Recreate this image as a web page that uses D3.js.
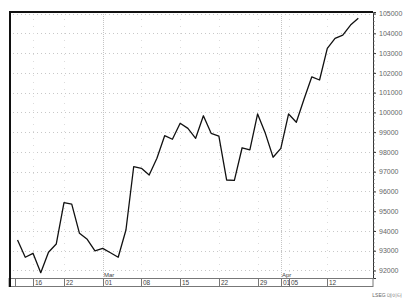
<!DOCTYPE html>
<html>
<head>
<meta charset="utf-8">
<script src="https://cdn.jsdelivr.net/npm/d3@7"></script>
<style>
  body { margin: 0; background: #fff; }
  svg { display: block; font-family: "Liberation Sans", Arial, sans-serif; }
</style>
</head>
<body>
<div id="chart"></div>
<script>
// trading days, feb 11 - apr 16
var dates = ["02-11","02-12","02-16","02-17","02-18","02-19",
  "02-22","02-23","02-24","02-25","02-26",
  "03-01","03-02","03-03","03-04","03-05",
  "03-08","03-09","03-10","03-11","03-12",
  "03-15","03-16","03-17","03-18","03-19",
  "03-22","03-23","03-24","03-25","03-26",
  "03-29","03-30","03-31","04-01",
  "04-05","04-06","04-07","04-08","04-09",
  "04-12","04-13","04-14","04-15","04-16"];

var closes = [93540, 92670, 92870, 91890, 92920, 93340,
  95430, 95360, 93880, 93580, 92990,
  93120, 92900, 92670, 94050, 97250,
  97170, 96830, 97680, 98820, 98640,
  99450, 99190, 98690, 99830, 98940,
  98800, 96580, 96560, 98210, 98100,
  99920, 98940, 97730, 98180,
  99920, 99500, 100680, 101800, 101640,
  103240, 103750, 103910, 104420, 104760];

var yTicks = [92000, 93000, 94000, 95000, 96000, 97000, 98000, 99000,
  100000, 101000, 102000, 103000, 104000, 105000];

var weekTicks = ["02-16","02-22","03-01","03-08","03-15","03-22","03-29","04-01","04-05","04-12"];
var weekLabels = ["16","22","01","08","15","22","29","01","05","12"];
var monthTicks = ["03-01","04-01"];
var monthLabels = ["Mar","Apr"];

var margin = {top: 12, right: 35, bottom: 22, left: 9},
    width = 408,
    height = 300,
    plotR = width - margin.right,
    plotB = height - margin.bottom;

var svg = d3.select("#chart").append("svg")
    .attr("width", width)
    .attr("height", height);

var x = d3.scaleLinear()
    .domain([-1.1, 45.9])
    .range([margin.left, plotR]);

var y = d3.scaleLinear()
    .domain([91620, 105080])
    .range([plotB, margin.top]);

function xd(d) { return x(dates.indexOf(d)); }

// grid
svg.append("g").selectAll("line")
    .data(yTicks)
  .enter().append("line")
    .attr("x1", margin.left).attr("x2", plotR)
    .attr("y1", function(d) { return Math.round(y(d)) + 0.5; })
    .attr("y2", function(d) { return Math.round(y(d)) + 0.5; })
    .attr("stroke", "#c8c8c8")
    .attr("stroke-dasharray", "1,3");

svg.append("g").selectAll("line")
    .data(weekTicks.filter(function(d) { return monthTicks.indexOf(d) < 0; }))
  .enter().append("line")
    .attr("x1", function(d) { return Math.round(xd(d)) + 0.5; })
    .attr("x2", function(d) { return Math.round(xd(d)) + 0.5; })
    .attr("y1", margin.top).attr("y2", plotB)
    .attr("stroke", "#dcdcdc")
    .attr("stroke-dasharray", "1,6");

svg.append("g").selectAll("line")
    .data(monthTicks)
  .enter().append("line")
    .attr("x1", function(d) { return Math.round(xd(d)) + 0.5; })
    .attr("x2", function(d) { return Math.round(xd(d)) + 0.5; })
    .attr("y1", margin.top).attr("y2", plotB)
    .attr("stroke", "#c4c4c4")
    .attr("stroke-dasharray", "1,1");

// right axis
var yAxis = d3.axisRight(y)
    .tickValues(yTicks)
    .tickSize(3)
    .tickFormat(d3.format("d"));

var ay = svg.append("g")
    .attr("transform", "translate(" + plotR + ",0)")
    .call(yAxis);
ay.select(".domain").attr("stroke", "#333");
ay.selectAll(".tick line").attr("stroke", "#333");
ay.selectAll("text")
    .attr("x", 6)
    .attr("fill", "#666")
    .style("font-size", "7px");

// minor ticks on right axis
svg.append("g").selectAll("line")
    .data(d3.range(91800, 105001, 200))
  .enter().append("line")
    .attr("x1", plotR).attr("x2", plotR + 1.5)
    .attr("y1", function(d) { return y(d); })
    .attr("y2", function(d) { return y(d); })
    .attr("stroke", "#555");

// date band
var band = svg.append("g");
band.append("rect")
    .attr("x", margin.left).attr("y", plotB + 0.5)
    .attr("width", plotR - margin.left).attr("height", 8)
    .attr("fill", "none").attr("stroke", "#777");
band.append("line")
    .attr("x1", 15.5).attr("x2", 15.5)
    .attr("y1", plotB).attr("y2", plotB + 8)
    .attr("stroke", "#777");
band.selectAll(".wk")
    .data(weekTicks)
  .enter().append("line")
    .attr("class", "wk")
    .attr("x1", function(d) { return Math.round(xd(d)) + 0.5; })
    .attr("x2", function(d) { return Math.round(xd(d)) + 0.5; })
    .attr("y1", plotB).attr("y2", plotB + 8)
    .attr("stroke", "#777");
band.selectAll(".wl")
    .data(weekTicks)
  .enter().append("text")
    .attr("class", "wl")
    .attr("x", function(d) { return Math.round(xd(d)) + 2; })
    .attr("y", plotB + 7)
    .attr("fill", "#444")
    .style("font-size", "6.5px")
    .text(function(d, i) { return weekLabels[i]; });
band.selectAll(".ml")
    .data(monthTicks)
  .enter().append("text")
    .attr("class", "ml")
    .attr("x", function(d) { return Math.round(xd(d)) + 1; })
    .attr("y", plotB - 1)
    .attr("fill", "#444")
    .style("font-size", "6px")
    .text(function(d, i) { return monthLabels[i]; });

// price line
var line = d3.line()
    .x(function(d, i) { return x(i); })
    .y(function(d) { return y(d); });

svg.append("path")
    .datum(closes)
    .attr("d", line)
    .attr("fill", "none")
    .attr("stroke", "#111")
    .attr("stroke-width", 1.3)
    .attr("stroke-linejoin", "round");

// heavy frame top/left
svg.append("line")
    .attr("x1", margin.left).attr("x2", plotR)
    .attr("y1", margin.top).attr("y2", margin.top)
    .attr("stroke", "#111").attr("stroke-width", 2);
svg.append("line")
    .attr("x1", margin.left + 1).attr("x2", margin.left + 1)
    .attr("y1", margin.top - 1).attr("y2", plotB + 9)
    .attr("stroke", "#111").attr("stroke-width", 2);

svg.append("text")
    .attr("x", 402).attr("y", 297)
    .attr("text-anchor", "end")
    .attr("fill", "#666")
    .style("font-size", "5px")
    .text("LSEG 데이터");
</script>
</body>
</html>
